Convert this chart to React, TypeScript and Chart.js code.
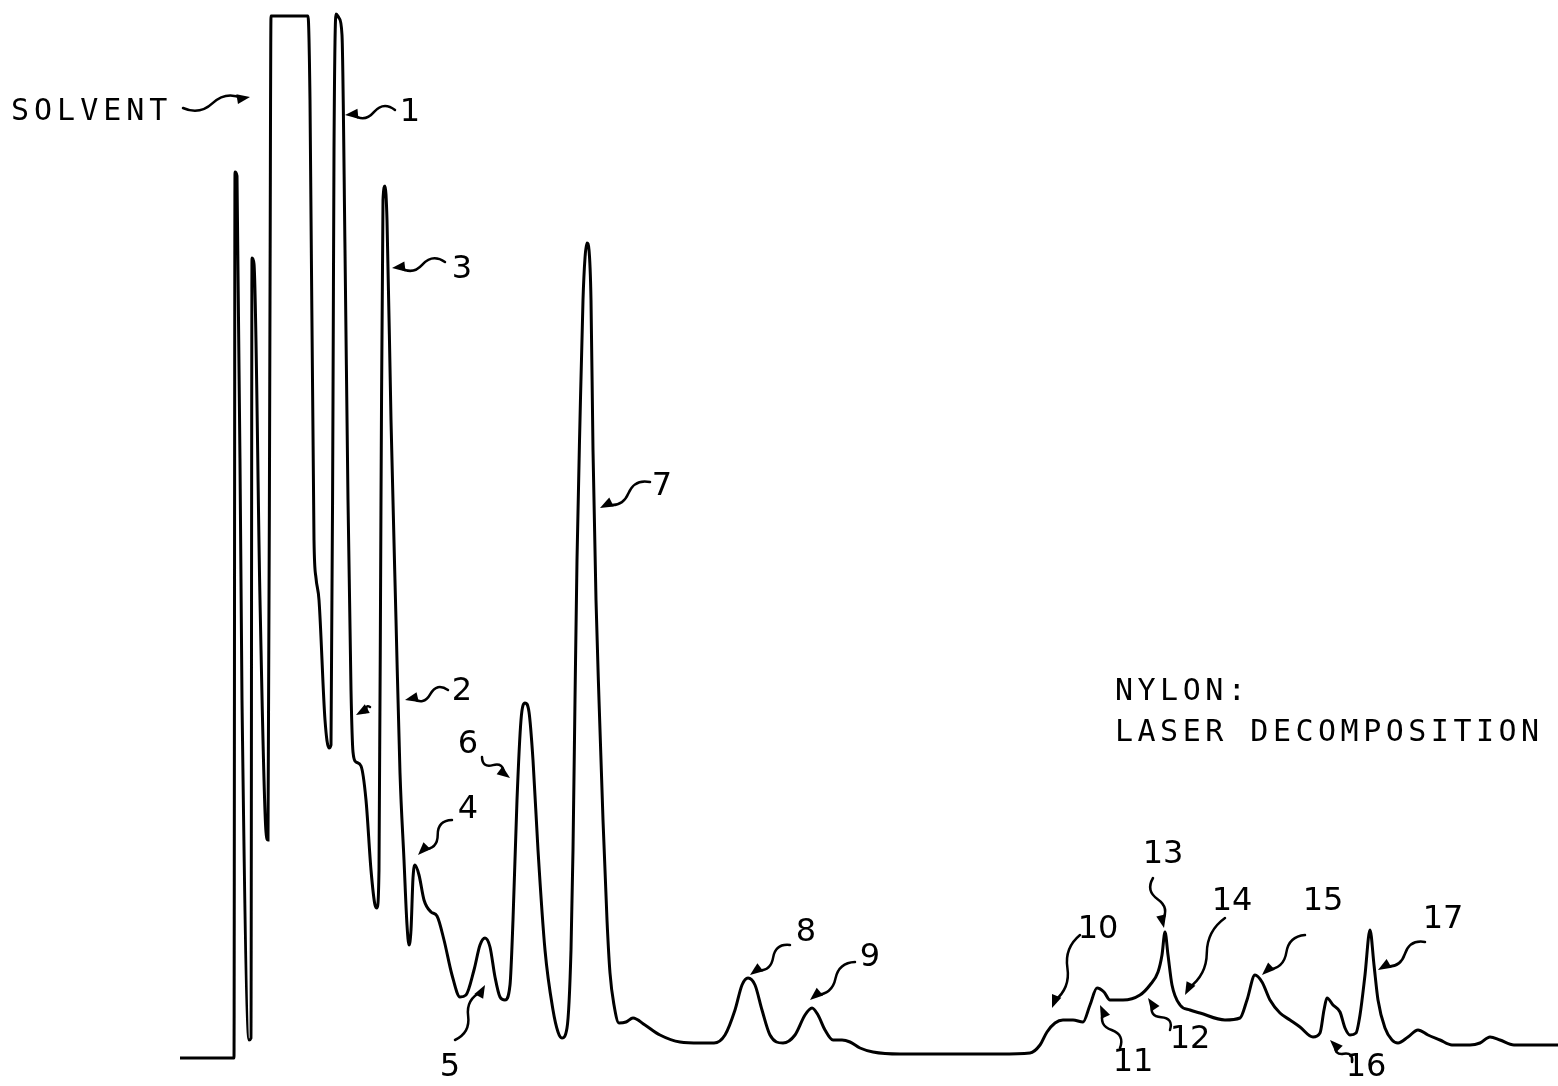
import React, { useEffect, useRef } from "react";
import { Chart, registerables } from "chart.js";

Chart.register(...registerables);

// Retention time (min) and detector response (% of full scale)
const retentionTime = [
  0.0, 1.08, 1.1, 1.14, 1.24, 1.38, 1.42, 1.44, 1.48, 1.6, 1.72, 1.76, 1.8, 1.82, 2.56, 2.6, 2.68, 2.72, 2.78, 2.9,
  2.98, 3.02, 3.06, 3.08, 3.12, 3.18, 3.24, 3.3, 3.36, 3.42, 3.46, 3.52, 3.62, 3.72, 3.82, 3.9, 3.94, 3.98, 4.02, 4.06,
  4.1, 4.14, 4.22, 4.32, 4.4, 4.48, 4.54, 4.58, 4.62, 4.66, 4.7, 4.78, 4.88, 5.02, 5.14, 5.28, 5.44, 5.6, 5.72, 5.88,
  6.0, 6.1, 6.2, 6.3, 6.4, 6.5, 6.6, 6.66, 6.74, 6.82, 6.9, 6.98, 7.06, 7.16, 7.3, 7.46, 7.56, 7.64, 7.74,
  7.82, 7.86, 7.9, 7.94, 8.0, 8.06, 8.1, 8.14, 8.18, 8.22, 8.26, 8.32, 8.38, 8.46, 8.54, 8.6,
  8.68, 8.78, 8.92, 9.06, 9.3, 9.6, 10.0, 10.4, 10.68, 10.9, 11.1, 11.24,
  11.36, 11.5, 11.64, 11.8, 12.06, 12.3, 12.5, 12.64, 12.76, 12.9, 13.06, 13.24, 13.4, 13.6, 13.86, 14.4, 15.4, 16.4, 17.0, 17.2,
  17.34, 17.5, 17.66, 17.86, 18.06, 18.2, 18.34, 18.48, 18.6, 18.86, 19.2, 19.4, 19.56, 19.64, 19.7, 19.76, 19.84, 20.0, 20.2, 20.4,
  20.9, 21.2, 21.34, 21.5, 21.64, 21.8, 22.0, 22.2, 22.4, 22.66, 22.8, 22.88, 22.94, 23.06, 23.2, 23.3, 23.4, 23.52, 23.6, 23.7,
  23.8, 23.88, 23.96, 24.1, 24.24, 24.36, 24.56, 24.76, 24.96, 25.2, 25.44, 25.8, 26.0, 26.2, 26.4, 26.68, 27.56,
];

const response = [
  0.0, 0.0, 88.6, 88.2, 35.8, 1.8, 2.0, 80.0, 79.4, 45.8, 22.6, 21.8, 75.8, 104.2, 104.2, 95.8, 51.8, 48.0, 45.8, 33.8,
  31.0, 31.3, 65.8, 90.8, 104.4, 104.0, 102.3, 80.8, 55.8, 36.8, 30.6, 29.6, 29.2, 25.8, 18.8, 15.3, 15.0, 18.8, 55.8, 85.8,
  87.2, 83.8, 63.8, 43.8, 28.5, 19.8, 13.3, 11.3, 12.8, 18.0, 19.3, 18.3, 15.8, 14.6, 14.2, 11.8, 8.3, 6.1, 6.3, 8.8,
  11.3, 12.0, 11.1, 8.1, 6.1, 5.8, 7.3, 13.8, 25.8, 33.8, 35.5, 34.6, 29.8, 20.8, 10.8, 4.8, 2.6, 2.0, 3.0,
  10.8, 20.8, 35.8, 49.8, 63.8, 75.8, 80.0, 81.5, 80.8, 75.8, 60.8, 45.8, 35.8, 23.8, 13.8, 8.5,
  5.3, 3.5, 3.6, 4.0, 3.3, 2.3, 1.6, 1.5, 1.5, 2.3, 4.8, 7.3,
  8.0, 7.3, 4.8, 2.3, 1.5, 2.3, 4.3, 5.0, 4.3, 2.8, 1.8, 1.8, 1.6, 1.0, 0.6, 0.4, 0.4, 0.4, 0.5, 1.3,
  2.6, 3.5, 3.8, 3.8, 3.6, 5.3, 7.0, 6.6, 5.8, 5.8, 6.3, 7.3, 8.6, 10.3, 12.6, 10.3, 7.3, 5.3, 4.8, 4.5,
  3.8, 4.0, 5.8, 8.3, 7.6, 5.8, 4.5, 3.8, 3.1, 2.1, 2.5, 4.8, 6.0, 5.3, 4.6, 3.0, 2.3, 2.5, 4.3, 8.3,
  12.8, 9.3, 5.8, 3.0, 1.8, 1.5, 2.1, 2.8, 2.3, 1.8, 1.3, 1.3, 1.5, 2.1, 1.8, 1.3, 1.3,
];

// Peak labels: text, label position, arrow tail, arrow tip (all in data units)
const peakLabels = ["1", "2", "3", "4", "5", "6", "7", "8", "9", "10", "11", "12", "13", "14", "15", "16", "17"];
const labelTime = [4.6, 5.64, 5.64, 5.76, 5.4, 5.76, 9.64, 12.52, 13.8, 18.36, 19.06, 20.2, 19.66, 21.04, 22.86, 23.72, 25.26];
const labelResp = [94.5, 36.6, 78.8, 24.8, -1.0, 31.3, 57.1, 12.5, 10.0, 12.8, -0.5, 1.8, 20.3, 15.6, 15.6, -1.0, 13.8];
const tailTime = [4.3, 5.36, 5.3, 5.44, 5.5, 6.04, 9.4, 12.2, 13.5, 18.0, 18.8, 19.8, 19.46, 20.9, 22.5, 23.44, 24.9];
const tailResp = [94.8, 36.8, 79.6, 23.8, 1.8, 30.1, 57.6, 11.3, 9.6, 12.3, 1.0, 2.8, 18.0, 14.0, 12.3, -0.4, 11.6];
const tipTime = [3.3, 4.5, 4.24, 4.76, 6.1, 6.6, 8.4, 11.4, 12.6, 17.44, 18.4, 19.36, 19.68, 20.1, 21.64, 23.0, 23.96];
const tipResp = [94.3, 35.8, 79.0, 20.3, 7.3, 28.0, 55.0, 8.3, 5.8, 5.0, 5.3, 6.0, 13.0, 6.3, 8.3, 1.8, 8.8];

const solventLabel = "SOLVENT";
const titleLines = ["NYLON:", "LASER DECOMPOSITION"];

function squiggle(ctx: CanvasRenderingContext2D, x1: number, y1: number, x2: number, y2: number) {
  const dx = x2 - x1;
  const dy = y2 - y1;
  const len = Math.hypot(dx, dy) || 1;
  const ux = dx / len;
  const uy = dy / len;
  const nx = -uy;
  const ny = ux;
  const amp = Math.min(10, len * 0.25);
  const head = 13;
  const ex = x2 - ux * head * 0.6;
  const ey = y2 - uy * head * 0.6;
  const mx = (x1 + ex) / 2;
  const my = (y1 + ey) / 2;
  ctx.beginPath();
  ctx.moveTo(x1, y1);
  ctx.quadraticCurveTo(x1 + (mx - x1) * 0.5 + nx * amp, y1 + (my - y1) * 0.5 + ny * amp, mx, my);
  ctx.quadraticCurveTo(mx + (ex - mx) * 0.5 - nx * amp, my + (ey - my) * 0.5 - ny * amp, ex, ey);
  ctx.stroke();
  ctx.beginPath();
  ctx.moveTo(x2, y2);
  ctx.lineTo(x2 - ux * head + nx * 5, y2 - uy * head + ny * 5);
  ctx.lineTo(x2 - ux * head - nx * 5, y2 - uy * head - ny * 5);
  ctx.closePath();
  ctx.fill();
}

const annotationPlugin = {
  id: "peakAnnotations",
  afterDatasetsDraw(chart: any) {
    const { ctx, scales } = chart;
    const xs = scales.x;
    const ys = scales.y;
    const px = (t: number) => xs.getPixelForValue(t);
    const py = (r: number) => ys.getPixelForValue(r);
    ctx.save();
    ctx.strokeStyle = "#000";
    ctx.fillStyle = "#000";
    ctx.lineWidth = 2.5;
    ctx.lineCap = "round";
    ctx.lineJoin = "round";

    ctx.font = "32px 'DejaVu Sans'";
    ctx.textAlign = "center";
    ctx.textBaseline = "middle";
    for (let i = 0; i < peakLabels.length; i++) {
      ctx.fillText(peakLabels[i], px(labelTime[i]), py(labelResp[i]));
      squiggle(ctx, px(tailTime[i]), py(tailResp[i]), px(tipTime[i]), py(tipResp[i]));
    }
    // stray arrow at shoulder of peak 1
    squiggle(ctx, px(3.8), py(35.1), px(3.52), py(34.3));

    ctx.font = "30px 'DejaVu Sans Mono'";
    (ctx as any).letterSpacing = "5px";
    ctx.textAlign = "left";
    ctx.textBaseline = "alphabetic";
    ctx.fillText(solventLabel, px(-3.38), py(93.8));
    squiggle(ctx, px(0.06), py(95.0), px(1.4), py(96.1));

    (ctx as any).letterSpacing = "4.5px";
    ctx.fillText(titleLines[0], px(18.7), py(35.8));
    ctx.fillText(titleLines[1], px(18.7), py(31.7));
    ctx.restore();
  },
};

export default function App() {
  const canvasRef = useRef<HTMLCanvasElement | null>(null);

  useEffect(() => {
    const canvas = canvasRef.current;
    if (!canvas) return;
    const points = retentionTime.map((t, i) => ({ x: t, y: response[i] }));
    const chart = new Chart(canvas, {
      type: "line",
      data: {
        datasets: [
          {
            data: points,
            borderColor: "#000",
            borderWidth: 3,
            pointRadius: 0,
            fill: false,
            cubicInterpolationMode: "monotone",
            clip: false as any,
          },
        ],
      },
      options: {
        responsive: false,
        animation: false,
        devicePixelRatio: 1,
        layout: { padding: 0 },
        plugins: { legend: { display: false }, tooltip: { enabled: false } },
        scales: {
          x: { type: "linear", min: -3.6, max: 27.56, display: false },
          y: { type: "linear", min: -2.8, max: 105.8, display: false },
        },
      },
      plugins: [annotationPlugin],
    });
    return () => chart.destroy();
  }, []);

  return (
    <div style={{ position: "absolute", left: 0, top: 0, width: 1558, height: 1086, background: "#fff" }}>
      <canvas ref={canvasRef} width={1558} height={1086} style={{ display: "block" }} />
    </div>
  );
}
